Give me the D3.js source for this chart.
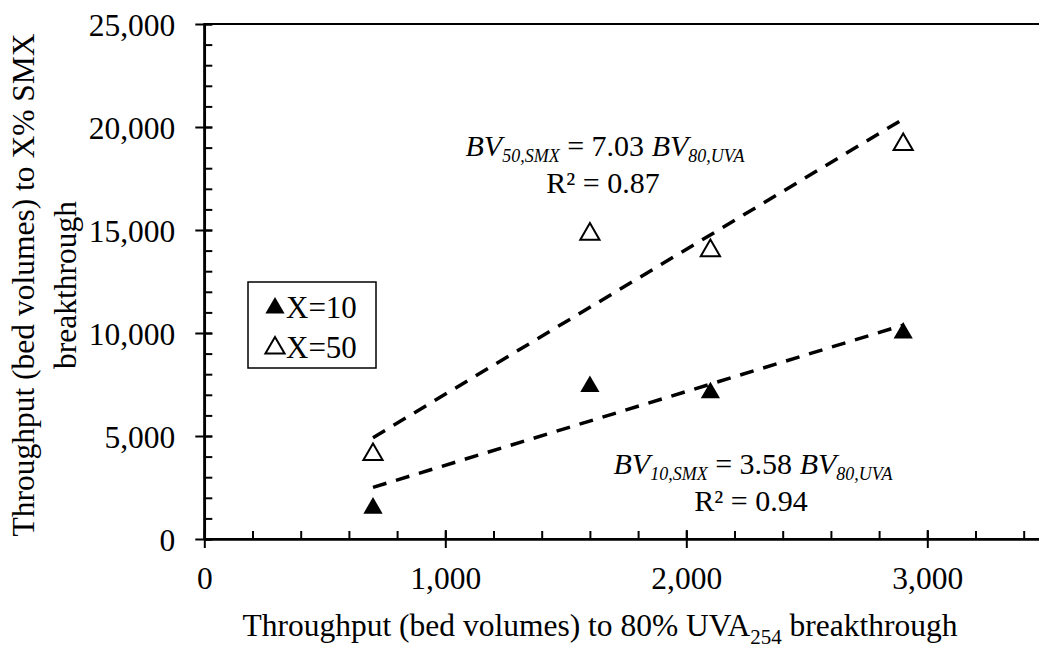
<!doctype html>
<html lang="en">
<head>
  <meta charset="utf-8">
  <title>SMX vs UVA254 breakthrough</title>
  <script src="https://cdnjs.cloudflare.com/ajax/libs/d3/7.8.5/d3.min.js"></script>
  <style>
    body { margin: 0; background: #fff; }
  </style>
</head>
<body>
  <svg width="1039" height="653" id="svg"></svg>

<script type="text/javascript">

  // throughput to 80% UVA254 breakthrough (bed volumes)
  var uvaBV = [700, 1600, 2100, 2900];
  // throughput to X% SMX breakthrough
  var smx10 = [1500, 7400, 7100, 10000];
  var smx50 = [4100, 14800, 14000, 19150];
  // trendline slopes (forced through origin)
  var slope10 = 3.58, slope50 = 7.03;
  var xTicks = [0, 1000, 2000, 3000];
  var yTicks = [0, 5000, 10000, 15000, 20000, 25000];

  var svg = d3.select('#svg').style('font-family', 'Liberation Serif');
  var fs = 31.5;

  var x = d3.scaleLinear().domain([0, 3500]).range([204.3, 1047.8]);
  var y = d3.scaleLinear().domain([0, 25000]).range([539, 24]);

  // plot frame (right edge falls outside the picture)
  svg.append('rect')
    .attr('x', x(0)).attr('y', y(25000))
    .attr('width', x(3500) - x(0)).attr('height', y(0) - y(25000))
    .attr('fill', 'none').attr('stroke', 'black').attr('stroke-width', 2);

  // minor ticks, inside
  svg.append('g')
    .attr('transform', 'translate(0,' + y(0) + ')')
    .call(d3.axisBottom(x).tickValues(d3.range(0, 3501, 200)).tickSize(-8).tickFormat(''))
    .call(g => g.select('.domain').remove());
  svg.append('g')
    .attr('transform', 'translate(' + x(0) + ',0)')
    .call(d3.axisLeft(y).tickValues(d3.range(0, 25001, 1000)).tickSize(-8).tickFormat(''))
    .call(g => g.select('.domain').remove());

  // major ticks, crossing, with labels
  var xAxis = svg.append('g')
    .attr('transform', 'translate(0,' + y(0) + ')')
    .call(d3.axisBottom(x).tickValues(xTicks).tickSizeInner(9).tickSizeOuter(0).tickFormat(d3.format(',')));
  xAxis.selectAll('.tick line').attr('y1', -9);
  xAxis.selectAll('.tick text').attr('y', 50).attr('dy', 0);

  var yAxis = svg.append('g')
    .attr('transform', 'translate(' + x(0) + ',0)')
    .call(d3.axisLeft(y).tickValues(yTicks).tickSizeInner(9).tickSizeOuter(0).tickFormat(d3.format(',')));
  yAxis.selectAll('.tick line').attr('x1', 8);
  yAxis.selectAll('.tick text').attr('x', -29).attr('dy', '0.35em');

  svg.selectAll('g').attr('font-family', null).attr('font-size', null);
  svg.selectAll('.domain').attr('stroke-width', 2.5);
  svg.selectAll('.tick line').attr('stroke-width', 2);

  // trendlines
  var line = d3.line().x(d => x(d[0])).y(d => y(d[1]));
  [slope10, slope50].forEach(function(s) {
    var ext = d3.extent(uvaBV);
    svg.append('path')
      .attr('d', line(ext.map(v => [v, s * v])))
      .attr('fill', 'none').attr('stroke', 'black')
      .attr('stroke-width', 3.5).attr('stroke-dasharray', '14,10');
  });

  // markers
  var tri = d3.symbol().type(d3.symbolTriangle).size(160);
  svg.selectAll('.p10').data(uvaBV).enter().append('path')
    .attr('class', 'p10').attr('d', tri)
    .attr('transform', (d, i) => 'translate(' + x(d) + ',' + y(smx10[i]) + ')')
    .attr('fill', 'black');
  svg.selectAll('.p50').data(uvaBV).enter().append('path')
    .attr('class', 'p50').attr('d', tri)
    .attr('transform', (d, i) => 'translate(' + x(d) + ',' + y(smx50[i]) + ')')
    .attr('fill', 'white').attr('stroke', 'black').attr('stroke-width', 2);

  // legend
  var lg = svg.append('g');
  lg.append('rect').attr('x', 248).attr('y', 282).attr('width', 128).attr('height', 86)
    .attr('fill', 'white').attr('stroke', 'black').attr('stroke-width', 1.5);
  lg.append('path').attr('d', tri).attr('transform', 'translate(275,308)').attr('fill', 'black');
  lg.append('path').attr('d', tri).attr('transform', 'translate(275,348)')
    .attr('fill', 'white').attr('stroke', 'black').attr('stroke-width', 2);
  lg.append('text').attr('x', 286).attr('y', 318).style('font-size', '31px').text('X=10');
  lg.append('text').attr('x', 286).attr('y', 358).style('font-size', '31px').text('X=50');

  // equations
  function eq(cx, by, a, b, c) {
    var t = svg.append('text').attr('x', cx).attr('y', by).attr('text-anchor', 'middle').style('font-size', '30px');
    t.append('tspan').style('font-style', 'italic').text('BV');
    t.append('tspan').style('font-style', 'italic').style('font-size', '18px').attr('dy', 6).text(a);
    t.append('tspan').attr('dy', -6).text(' = ' + b + ' ');
    t.append('tspan').style('font-style', 'italic').text('BV');
    t.append('tspan').style('font-style', 'italic').style('font-size', '18px').attr('dy', 6).text('80,UVA');
    svg.append('text').attr('x', cx - 2).attr('y', by + 37).attr('text-anchor', 'middle')
      .style('font-size', '30px').text('R\u00B2 = ' + c);
  }
  eq(605, 156, '50,SMX', slope50.toFixed(2), '0.87');
  eq(753, 474, '10,SMX', slope10.toFixed(2), '0.94');

  // axis titles
  var xt = svg.append('text').attr('x', 600).attr('y', 636).attr('text-anchor', 'middle');
  xt.append('tspan').text('Throughput (bed volumes) to 80% UVA');
  xt.append('tspan').style('font-size', '21px').attr('dy', 8).text('254');
  xt.append('tspan').attr('dy', -8).text(' breakthrough');

  var yt = svg.append('text').attr('transform', 'translate(34,285) rotate(-90)')
    .attr('text-anchor', 'middle');
  yt.append('tspan').attr('x', 0).attr('y', 0).text('Throughput (bed volumes) to X% SMX');
  yt.append('tspan').attr('x', 0).attr('y', 42).text('breakthrough');

  // all text in a Times-like serif
  svg.selectAll('text')
    .attr('font-family', 'Liberation Serif')
    .style('font-family', 'Liberation Serif')
    .style('fill', 'black')
    .each(function() { if (!this.style.fontSize) this.style.fontSize = fs + 'px'; });

</script>
</body>
</html>
